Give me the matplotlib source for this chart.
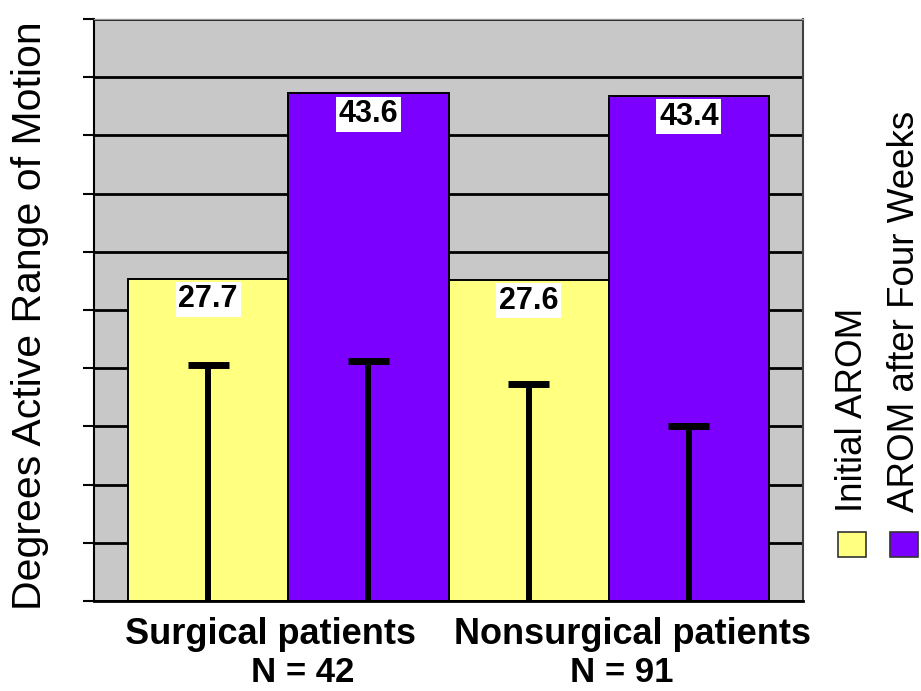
import numpy as np
import matplotlib
matplotlib.use("Agg")
import matplotlib.pyplot as plt
from matplotlib.patches import Rectangle

plt.rcParams['font.family'] = ['Liberation Sans', 'DejaVu Sans']

# data
groups = ['Surgical patients', 'Nonsurgical patients']
group_n = ['N = 42', 'N = 91']
series = ['Initial AROM', 'AROM after Four Weeks']
initial = [27.7, 27.6]
after4w = [43.6, 43.4]
# top of the (downward) error bars
err_initial = [20.3, 18.6]
err_after = [20.6, 15.0]

col_init = '#FFFF80'
col_after = '#7B00FF'

W, H = 921, 691
fig = plt.figure(figsize=(W / 100, H / 100), dpi=100)
ax = fig.add_axes([94 / W, 1 - 601 / H, (803 - 94) / W, (601 - 19) / H])
ax.set_facecolor('#C8C8C8')

x = np.arange(len(groups))
bw = 0.5
ax.set_axisbelow(True)
ax.yaxis.grid(True, color='black', lw=2.0)

b1 = ax.bar(x - bw / 2, initial, bw, color=col_init, edgecolor='black', lw=1.4, zorder=2)
b2 = ax.bar(x + bw / 2, after4w, bw, color=col_after, edgecolor='black', lw=1.4, zorder=2)

# error bars: line from the axis up to a cap
cap = 0.064
for xs, tops in [(x - bw / 2, err_initial), (x + bw / 2, err_after)]:
    ax.vlines(xs, 0, tops, color='black', lw=4.3, zorder=3)
    ax.hlines(tops, xs - cap, xs + cap, color='black', lw=5, zorder=3)

for bars, vals in [(b1, initial), (b2, after4w)]:
    for r, v in zip(bars, vals):
        ax.annotate(f'{v:.1f}', (r.get_x() + r.get_width() / 2, v),
                    xytext=(0, -15), textcoords='offset points',
                    ha='center', va='center', fontsize=22, fontweight='bold',
                    bbox=dict(facecolor='white', edgecolor='none', pad=2),
                    zorder=4)

ax.set_xlim(-0.606, 1.606)
ax.set_ylim(0, 50)
ax.set_yticks(np.arange(0, 51, 5))
ax.set_yticklabels([])
ax.set_xticks([])
ax.tick_params(axis='y', direction='out', length=8, width=1.5, color='black')

ax.spines['left'].set_linewidth(1.5)
ax.spines['bottom'].set_linewidth(2)
ax.spines['right'].set_color('#404040')
ax.spines['right'].set_linewidth(1.5)
ax.spines['top'].set_color('#999999')
ax.spines['top'].set_linewidth(1.0)

# category labels
lab_x = [270, 633]
n_x = [303, 622]
for g, n, lx, nx in zip(groups, group_n, lab_x, n_x):
    fig.text(lx / W, 1 - 634 / H, g, ha='center', va='center',
             fontsize=26, fontweight='bold')
    fig.text(nx / W, 1 - 672 / H, n, ha='center', va='center',
             fontsize=25, fontweight='bold')

fig.text(30 / W, 1 - 316 / H, 'Degrees Active Range of Motion', rotation=90,
         ha='center', va='center', fontsize=29.5)

# legend, drawn rotated like the original
for name, col, cx in zip(series, [col_init, col_after], [852, 904]):
    fig.text(cx / W, 1 - 512 / H, name, rotation=90, ha='center', va='bottom',
             fontsize=26.5)
    fig.patches.append(Rectangle(((cx - 14) / W, 1 - 557 / H), 28 / W, 25 / H,
                                 transform=fig.transFigure, facecolor=col,
                                 edgecolor='#333333', lw=1.2))

fig.savefig('out.png', dpi=100)
